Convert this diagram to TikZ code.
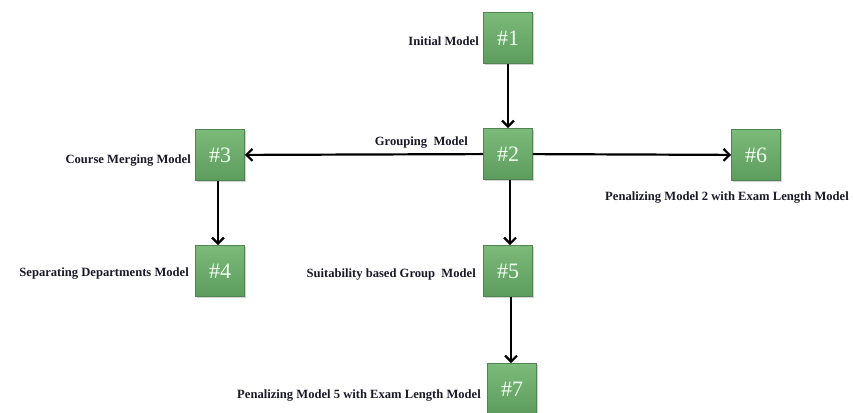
\documentclass[tikz,border=0pt]{standalone}
\usepackage{fontspec}
\setmainfont{Liberation Serif}
\usetikzlibrary{arrows.meta,shadows}
\definecolor{boxtop}{RGB}{124,186,122}
\definecolor{boxbot}{RGB}{92,156,92}
\definecolor{boxline}{RGB}{80,132,80}
\definecolor{labtext}{RGB}{25,25,40}
\tikzset{
  modelbox/.style={draw=boxline, line width=0.8pt, top color=boxtop, bottom color=boxbot,
    minimum width=49pt, minimum height=51pt, inner sep=0pt,
    text=white!94!green, font=\fontsize{22}{22}\selectfont,
    drop shadow={shadow xshift=1.5pt, shadow yshift=-1.5pt, opacity=0.35}},
  modellab/.style={font=\bfseries\fontsize{12.6}{14}\selectfont, text=labtext, inner sep=0pt},
  flow/.style={line width=2.2pt, -{Straight Barb[length=6pt,width=12pt,line width=2.2pt]}}
}
\begin{document}
\begin{tikzpicture}[x=1pt,y=-1pt]
\useasboundingbox (0,0) rectangle (853,412);
\node[modelbox] (n1) at (508,38) {\#1};
\node[modelbox] (n2) at (508,154) {\#2};
\node[modelbox] (n3) at (220,155) {\#3};
\node[modelbox] (n6) at (756,155) {\#6};
\node[modelbox] (n4) at (220,271) {\#4};
\node[modelbox] (n5) at (508,271) {\#5};
\node[modelbox] (n7) at (512,389) {\#7};

\node[modellab, anchor=east] (l1) at (479,41) {Initial Model};
\node[modellab, anchor=east] (l2) at (468,143) {Grouping\ \ Model};
\node[modellab, anchor=east] (l3) at (191,161) {Course Merging Model};
\node[modellab] (l6) at (727,198) {Penalizing Model 2 with Exam Length Model};
\node[modellab, anchor=east] (l4) at (189,274) {Separating Departments Model};
\node[modellab, anchor=east] (l5) at (476,274) {Suitability based Group\ \ Model};
\node[modellab, anchor=east] (l7) at (481,396) {Penalizing Model 5 with Exam Length Model};

\draw[flow] (n1) -- (n2);
\draw[flow] (n2) -- (n3);
\draw[flow] (n2) -- (n6);
\draw[flow] (n3.south -| 218,0) -- (n4.north -| 218,0);
\draw[flow] (n2.south -| 510,0) -- (n5.north -| 510,0);
\draw[flow] (n5.south -| 511,0) -- (n7.north -| 511,0);
\end{tikzpicture}
\end{document}
